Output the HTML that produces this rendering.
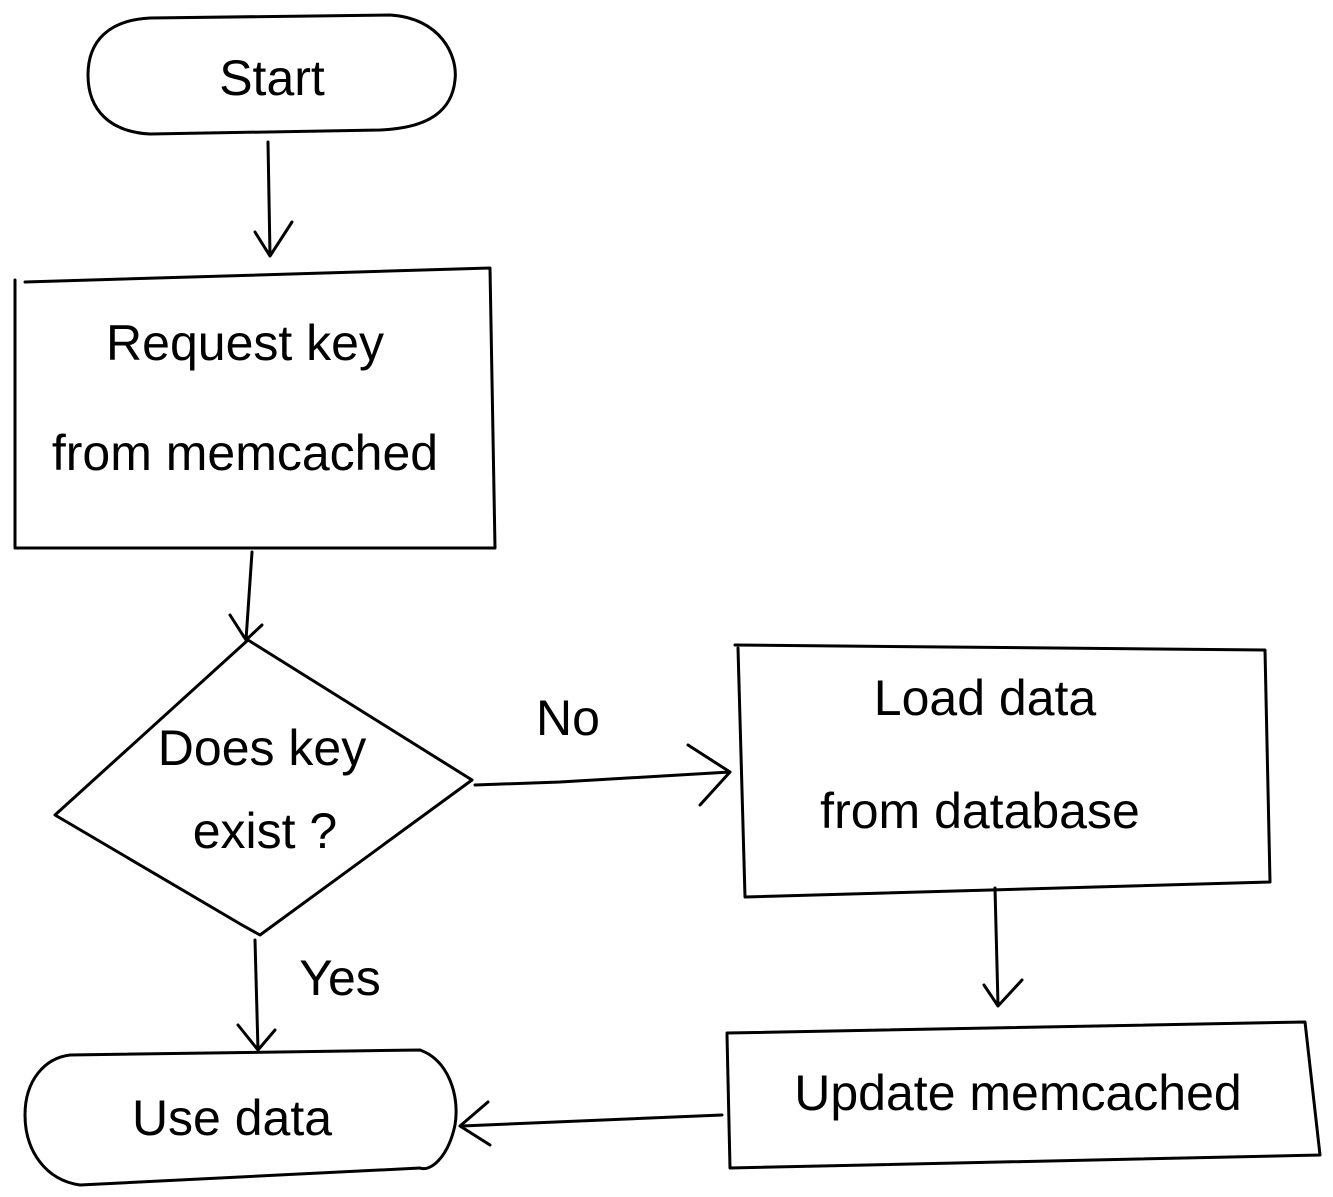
<!DOCTYPE html>
<html><head><meta charset="utf-8"><style>html,body{margin:0;padding:0;background:#fff}svg{display:block}</style></head>
<body>
<svg width="1333" height="1197" viewBox="0 0 1333 1197" xmlns="http://www.w3.org/2000/svg">
<g fill="none" stroke="#000" stroke-width="3" stroke-linecap="round" stroke-linejoin="round">
<!-- Start pill -->
<path d="M150,18 L390,15 C440,18 458,55 455,80 C452,110 430,128 380,130 L150,134 C110,132 88,110 88,75 C88,40 110,20 150,18 Z"/>
<!-- arrow start->request -->
<path d="M268,142 L270,255 M255,232 L270,256 L292,222"/>
<!-- Request rect -->
<path d="M25,282 L490,268 L495,548 L15,548 L15,280"/>
<!-- arrow -->
<path d="M252,552 L246,640 M230,615 L246,640 L262,625"/>
<!-- diamond -->
<path d="M248,640 L472,780 L260,935 L242,925 L55,815 Z"/>
<!-- No arrow -->
<path d="M475,785 L560,782 L730,772 M688,745 L730,772 L700,805"/>
<!-- Load rect -->
<path d="M735,645 L1265,650 L1270,882 L745,897 L738,648"/>
<!-- arrow down -->
<path d="M995,888 L998,1005 M984,985 L998,1006 L1022,980"/>
<!-- Update rect -->
<path d="M727,1033 L1305,1022 L1320,1155 L730,1168 L727,1035"/>
<!-- left arrow -->
<path d="M722,1115 L462,1126 M488,1102 L460,1126 L490,1145"/>
<!-- Use data pill -->
<path d="M70,1055 L420,1050 C448,1060 460,1095 455,1125 C448,1158 430,1172 420,1168 L80,1185 C45,1180 25,1150 25,1115 C25,1080 45,1058 70,1055 Z"/>
<!-- yes arrow -->
<path d="M255,940 L258,1050 M238,1025 L258,1050 L275,1030"/>
</g>
<g font-family="Liberation Sans, sans-serif" font-size="50" fill="#000" text-anchor="middle">
<text x="272" y="95">Start</text>
<text x="245" y="360">Request key</text>
<text x="245" y="470">from memcached</text>
<text x="262" y="765">Does key</text>
<text x="265" y="848">exist ?</text>
<text x="568" y="735">No</text>
<text x="985" y="715">Load  data</text>
<text x="980" y="828">from database</text>
<text x="1018" y="1110">Update memcached</text>
<text x="232" y="1135">Use  data</text>
<text x="340" y="995">Yes</text>
</g>
</svg>
</body></html>
